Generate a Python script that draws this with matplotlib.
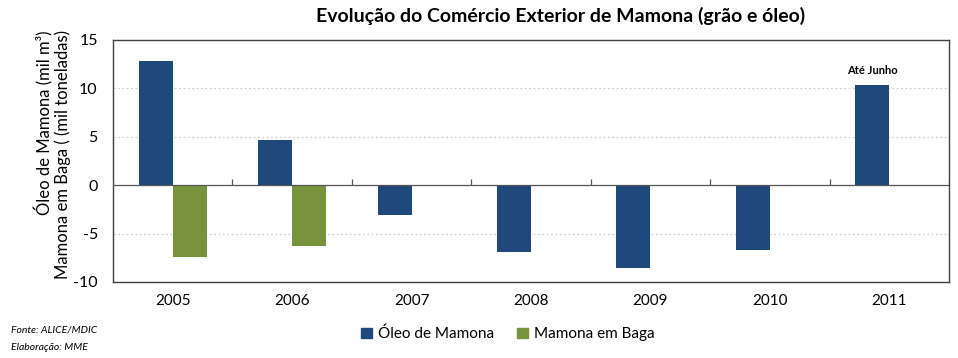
import matplotlib
matplotlib.use("Agg")
import matplotlib.pyplot as plt
from matplotlib.patches import Patch
import numpy as np

# ── Data ──────────────────────────────────────────────────────────────────────
years      = ["2005", "2006", "2007", "2008", "2009", "2010", "2011"]
oleo       = [12.8, 4.65, -3.1, -6.9, -8.6, -6.7, 10.3]
baga       = [-7.45, -6.3, 0, 0, 0, 0, 0]
yticks     = [-10, -5, 0, 5, 10, 15]

BLUE  = "#1F497D"
GREEN = "#77933C"

plt.rcParams["font.family"] = ["Lato", "DejaVu Sans"]

fig = plt.figure(figsize=(9.58, 3.58), dpi=100)
ax = fig.add_axes([0.118, 0.2123, 0.8726, 0.676])

x = np.arange(len(years))
w = 0.285
ax.bar(x - w/2, oleo, w, color=BLUE, zorder=3)
ax.bar(x + w/2, baga, w, color=GREEN, zorder=3)

ax.set_xlim(-0.5, len(years) - 0.5)
ax.set_ylim(-10, 15)
ax.set_yticks(yticks)
ax.set_yticklabels([str(t) for t in yticks], fontsize=11.5)
ax.set_xticks(x)
ax.set_xticklabels(years, fontsize=11)
ax.tick_params(axis="x", length=0, pad=9)
ax.tick_params(axis="y", length=0, pad=11)

for v in [-5, 5, 10]:
    ax.axhline(v, color="#d0d0d0", lw=0.9, ls=(0, (1.5, 2)), zorder=1)
ax.axhline(0, color="#555555", lw=0.9, zorder=4)
ax.vlines(np.arange(len(years) + 1) - 0.5, 0, 0.6, color="#555555", lw=0.9, zorder=4)

for s in ax.spines.values():
    s.set_color("#404040")
    s.set_linewidth(1.0)

ax.text(x[-1] - w/2, oleo[-1] + 1.0, "Até Junho", ha="center", va="bottom",
        fontsize=8, fontweight="bold")

ax.set_ylabel("Óleo de Mamona (mil m³)\nMamona em Baga ( (mil toneladas)",
              fontsize=12, linespacing=1.1, multialignment="right")
ax.yaxis.set_label_coords(-0.05, 0.525)

fig.text(0.585, 0.955, "Evolução do Comércio Exterior de Mamona (grão e óleo)",
         ha="center", va="center", fontsize=14, fontweight="bold")

handles = [Patch(color=BLUE), Patch(color=GREEN)]
fig.legend(handles, ["Óleo de Mamona", "Mamona em Baga"], loc="center",
           bbox_to_anchor=(0.53, 0.067), ncol=2, frameon=False, fontsize=11,
           handlelength=0.7, handleheight=0.7, handletextpad=0.4, columnspacing=1.5)

fig.text(0.011, 0.078, "Fonte: ALICE/MDIC", fontsize=7.5, style="italic", va="center")
fig.text(0.011, 0.028, "Elaboração: MME", fontsize=7.5, style="italic", va="center")

fig.savefig("out.png", dpi=100)
